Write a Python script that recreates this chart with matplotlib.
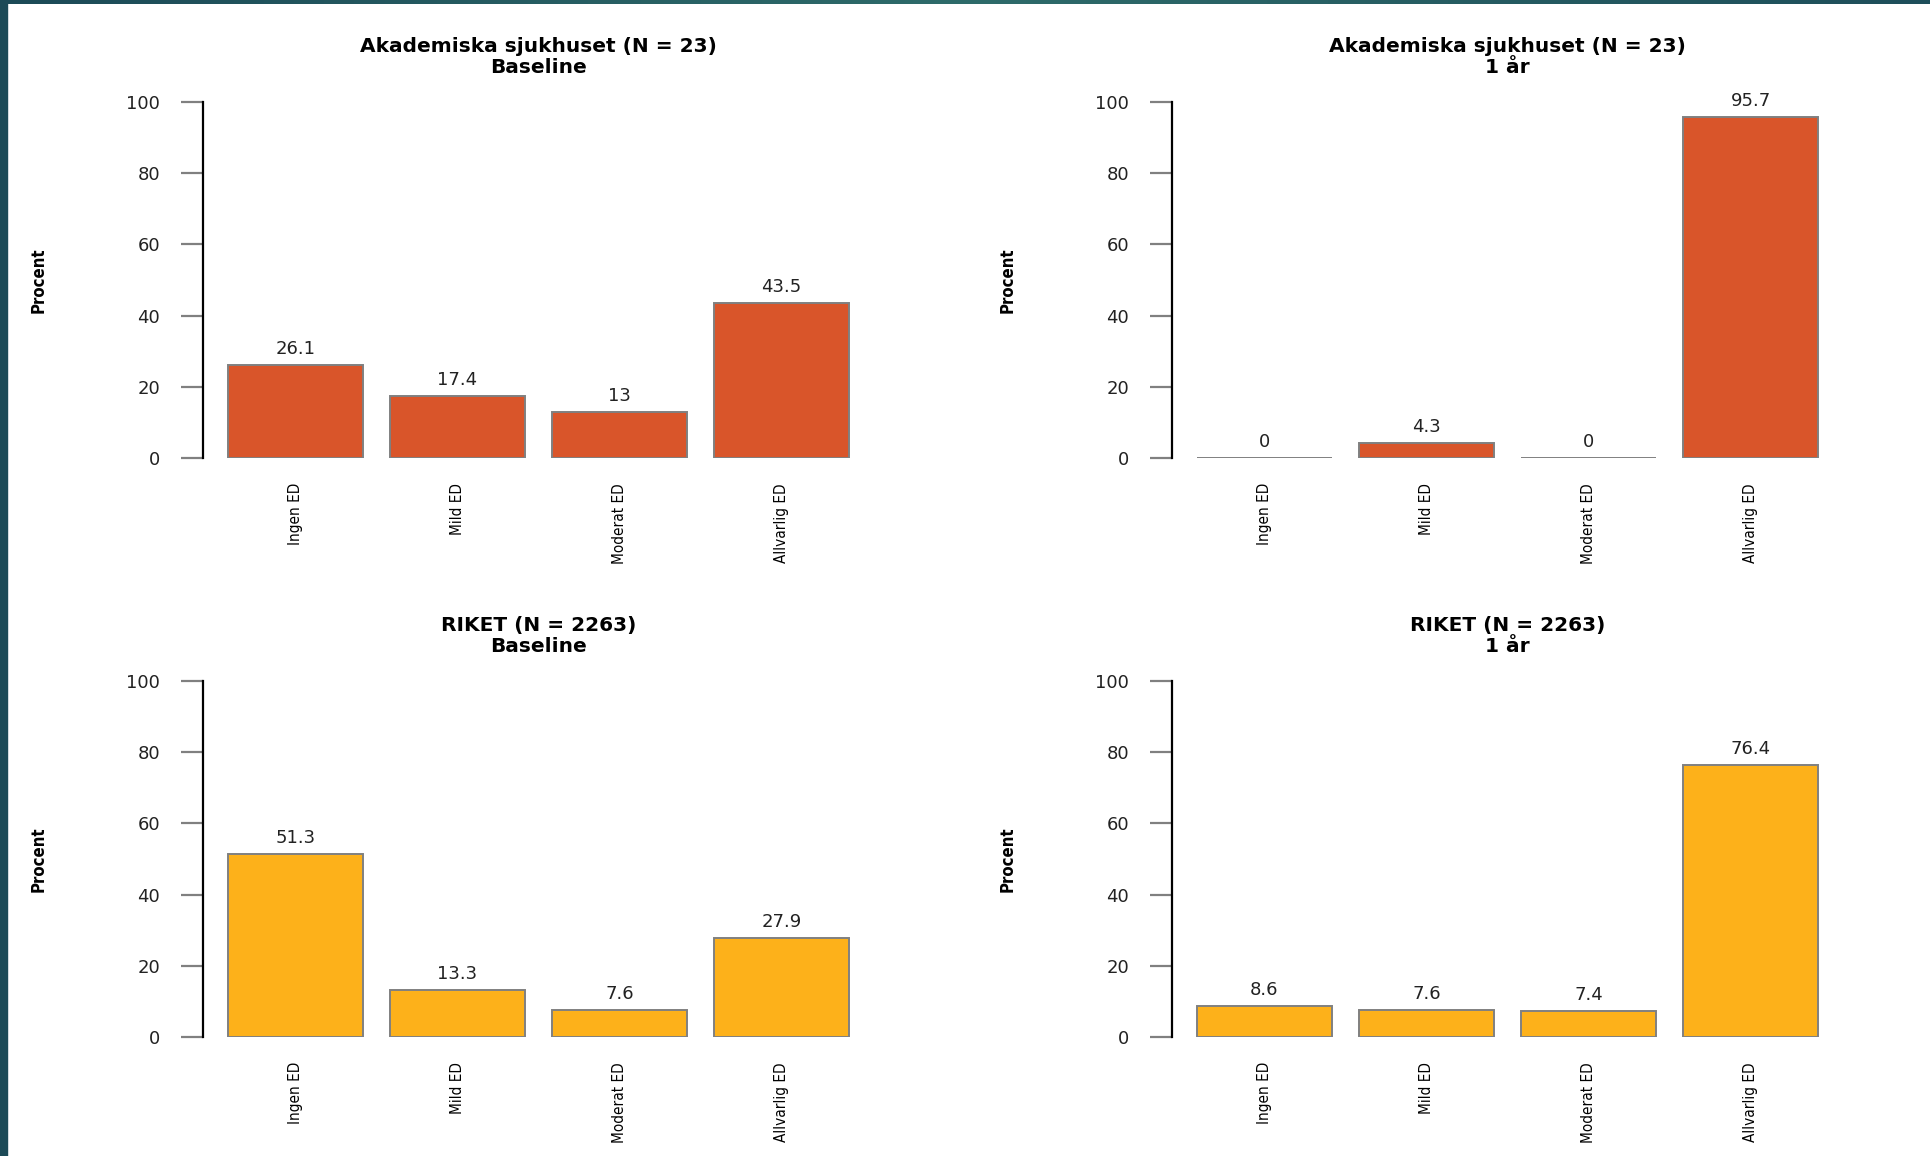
"""
Recreate the ED distribution 2x2 bar panel (Akademiska sjukhuset vs Riket).
"""

import numpy as np
import matplotlib
matplotlib.use("Agg")
import matplotlib.pyplot as plt
from matplotlib.colors import LinearSegmentedColormap

# ── Data ─────────────────────────────────────────────────────────────────────

categories = ["Ingen ED", "Mild ED", "Moderat ED", "Allvarlig ED"]

akad_baseline = [26.1, 17.4, 13, 43.5]
akad_1ar = [0, 4.3, 0, 95.7]
riket_baseline = [51.3, 13.3, 7.6, 27.9]
riket_1ar = [8.6, 7.6, 7.4, 76.4]

titles = [
    "Akademiska sjukhuset (N = 23)\nBaseline",
    "Akademiska sjukhuset (N = 23)\n1 år",
    "RIKET (N = 2263)\nBaseline",
    "RIKET (N = 2263)\n1 år",
]
yticks = [0, 20, 40, 60, 80, 100]

RED = "#D9552A"
YELLOW = "#FDB11A"
EDGE = "#808080"
FRAME = "#1C4A57"


def fmt(v):
    return f"{v:g}"


def draw_panel(ax, values, title, color):
    n = len(values)
    x = np.arange(n) * 1.2
    ax.bar(x, values, width=1.0, color=color, edgecolor=EDGE, linewidth=1.4,
           zorder=2)

    for xi, v in zip(x, values):
        ax.annotate(fmt(v), (xi, v), xytext=(0, 5), textcoords="offset points",
                    ha="center", va="bottom", fontsize=13, color="#222222",
                    annotation_clip=False)

    ax.set_xlim(x[0] - 0.5 - 0.184, x[-1] + 0.5 + 0.184)
    ax.set_ylim(0, 100)
    ax.set_yticks(yticks)
    ax.set_yticklabels([str(t) for t in yticks], fontsize=13)
    ax.set_xticks(x)
    ax.set_xticklabels(categories, rotation=90, fontsize=11, va="top",
                       fontstretch="condensed")

    for s in ["top", "right", "bottom"]:
        ax.spines[s].set_visible(False)
    ax.spines["left"].set_color("black")
    ax.spines["left"].set_linewidth(1.6)

    ax.tick_params(axis="y", length=16, width=1.6, color=EDGE, pad=15,
                   labelcolor="#222222")
    ax.tick_params(axis="x", length=0, pad=18)

    ax.set_ylabel("Procent", fontweight="bold", fontsize=12,
                  fontstretch="condensed")
    ax.yaxis.set_label_coords(-0.232, 0.5)

    ax.set_title(title, fontsize=14.5, fontweight="bold", linespacing=1.15,
                 pad=21)


fig = plt.figure(figsize=(19.31, 11.56), dpi=100)
fig.patch.set_facecolor("white")

W, H = 1931, 1156
ax_w, ax_h = 671 / W, 356 / H
positions = [
    (203 / W, 1 - 458 / H),
    (1172 / W, 1 - 458 / H),
    (203 / W, 1 - 1037 / H),
    (1172 / W, 1 - 1037 / H),
]
panels = [akad_baseline, akad_1ar, riket_baseline, riket_1ar]
colors = [RED, RED, YELLOW, YELLOW]

for (left, bottom), vals, title, col in zip(positions, panels, titles, colors):
    ax = fig.add_axes([left, bottom, ax_w, ax_h])
    draw_panel(ax, vals, title, col)

# ── Dark teal frame on the left and top edges ─────────────────────────────────
fig.add_artist(plt.Rectangle((0, 0), 7 / W, 1, transform=fig.transFigure,
                             color=FRAME, zorder=10))
top = fig.add_axes([0, 1 - 4 / H, 1, 4 / H], zorder=10)
grad = np.linspace(0, 1, 256).reshape(1, -1)
cmap = LinearSegmentedColormap.from_list("frame", [FRAME, "#2E6B6A", "#1E4E5A"])
top.imshow(grad, aspect="auto", cmap=cmap)
top.axis("off")

fig.savefig("out.png", dpi=100)
